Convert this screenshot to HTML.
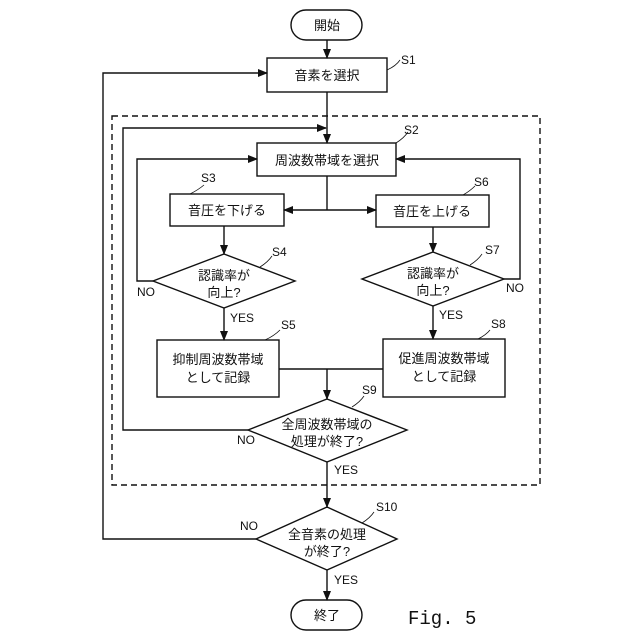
<!DOCTYPE html>
<html><head><meta charset="utf-8"><style>body{margin:0;background:#fff}svg{display:block}text{font-family:"Liberation Sans","Noto Sans CJK JP",sans-serif;fill:#111}</style></head><body>
<svg width="640" height="640" viewBox="0 0 640 640" xmlns="http://www.w3.org/2000/svg">
<defs><marker id="a" markerWidth="10" markerHeight="8" refX="9" refY="4" orient="auto" markerUnits="userSpaceOnUse"><path d="M0,0 L10,4 L0,8 z" fill="#111"/></marker></defs>
<g stroke="#111" stroke-width="1.4" fill="none">
<rect x="112" y="116" width="428" height="369" stroke-dasharray="6,4"/>
<rect x="291" y="10" width="71" height="30" rx="15" fill="#fff"/>
<rect x="291" y="600" width="71" height="30" rx="15" fill="#fff"/>
<rect x="267" y="58" width="120" height="34"/>
<rect x="257" y="143" width="139" height="33"/>
<rect x="170" y="194" width="114" height="32"/>
<rect x="376" y="195" width="113" height="32"/>
<rect x="157" y="340" width="122" height="57"/>
<rect x="383" y="339" width="122" height="58"/>
<polygon points="224,254 295,281 224,308 153,281"/>
<polygon points="433,252 504,279 433,306 362,279"/>
<polygon points="327,399 407,430 327,462 248,430"/>
<polygon points="327,507 397,539 327,570 256,539"/>
<line x1="327" y1="40" x2="327" y2="58" marker-end="url(#a)"/>
<line x1="327" y1="92" x2="327" y2="143" marker-end="url(#a)"/>
<polyline points="248,430 123,430 123,128 326,128" marker-end="url(#a)"/>
<polyline points="153,281 137,281 137,159 257,159" marker-end="url(#a)"/>
<polyline points="504,279 520,279 520,159 396,159" marker-end="url(#a)"/>
<line x1="327" y1="176" x2="327" y2="210"/>
<line x1="327" y1="210" x2="284" y2="210" marker-end="url(#a)"/>
<line x1="327" y1="210" x2="376" y2="210" marker-end="url(#a)"/>
<line x1="224" y1="226" x2="224" y2="254" marker-end="url(#a)"/>
<line x1="433" y1="227" x2="433" y2="252" marker-end="url(#a)"/>
<line x1="224" y1="308" x2="224" y2="340" marker-end="url(#a)"/>
<line x1="433" y1="306" x2="433" y2="339" marker-end="url(#a)"/>
<line x1="279" y1="369" x2="383" y2="369"/>
<line x1="327" y1="369" x2="327" y2="399" marker-end="url(#a)"/>
<line x1="327" y1="462" x2="327" y2="507" marker-end="url(#a)"/>
<polyline points="256,539 103,539 103,73 267,73" marker-end="url(#a)"/>
<line x1="327" y1="570" x2="327" y2="600" marker-end="url(#a)"/>
<g stroke-width="0.8">
<path d="M387,70 Q396,66 400,60"/><path d="M396,143 Q404,138 408,132"/>
<path d="M190,194 Q198,190 204,185"/><path d="M463,195 Q470,191 475,186"/>
<path d="M260,267 Q268,262 272,256"/><path d="M470,265 Q478,260 482,254"/>
<path d="M265,340 Q274,336 280,330"/><path d="M478,339 Q486,335 490,330"/>
<path d="M352,407 Q360,402 364,396"/><path d="M362,523 Q370,518 374,512"/>
</g></g>
<g font-size="13" text-anchor="middle">
<text x="327" y="30">開始</text><text x="327" y="620">終了</text>
<text x="327" y="80">音素を選択</text>
<text x="327" y="165">周波数帯域を選択</text>
<text x="227" y="215">音圧を下げる</text>
<text x="432" y="216">音圧を上げる</text>
<text x="224" y="280">認識率が</text><text x="224" y="297">向上?</text>
<text x="433" y="278">認識率が</text><text x="433" y="295">向上?</text>
<text x="218" y="364">抑制周波数帯域</text><text x="218" y="382">として記録</text>
<text x="444" y="363">促進周波数帯域</text><text x="444" y="381">として記録</text>
<text x="327" y="429">全周波数帯域の</text><text x="327" y="446">処理が終了?</text>
<text x="327" y="539">全音素の処理</text><text x="327" y="556">が終了?</text>
</g>
<g font-size="12">
<text x="401" y="64">S1</text><text x="404" y="134">S2</text><text x="201" y="182">S3</text><text x="474" y="186">S6</text>
<text x="272" y="256">S4</text><text x="485" y="254">S7</text><text x="281" y="329">S5</text><text x="491" y="328">S8</text>
<text x="362" y="394">S9</text><text x="376" y="511">S10</text>
<text x="137" y="296">NO</text><text x="506" y="292">NO</text><text x="237" y="444">NO</text><text x="240" y="530">NO</text>
<text x="230" y="322">YES</text><text x="439" y="319">YES</text><text x="334" y="474">YES</text><text x="334" y="584">YES</text>
</g>
<text x="408" y="624" font-size="19" style="font-family:'Liberation Mono',monospace">Fig. 5</text>
</svg></body></html>
